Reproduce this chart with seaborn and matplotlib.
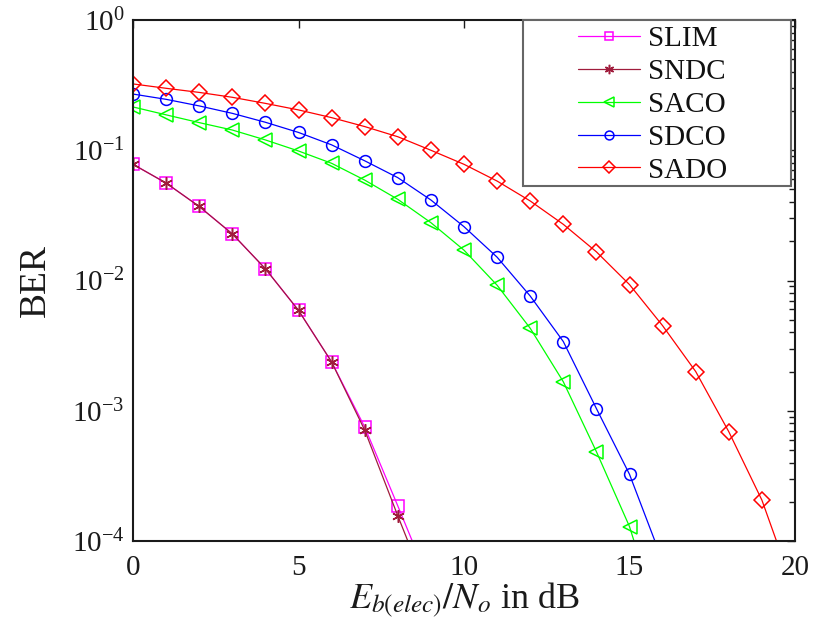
import matplotlib
matplotlib.use("Agg")
import matplotlib.pyplot as plt
from matplotlib.patches import Rectangle
import seaborn as sns
import numpy as np
import pandas as pd

# ---- data ----
x_lim_ndc = [0, 1, 2, 3, 4, 5, 6, 7, 8, 9]
slim = [0.078, 0.056, 0.037, 0.0228, 0.0123, 0.0059, 0.00237, 0.00075, 1.86e-4, 4.5e-5]
sndc = [0.078, 0.056, 0.037, 0.0228, 0.0123, 0.0059, 0.00237, 0.00071, 1.56e-4, 3.6e-5]

x_aco = [0, 1, 2, 3, 4, 5, 6, 7, 8, 9, 10, 11, 12, 13, 14, 15, 16]
saco = [0.215, 0.187, 0.163, 0.143, 0.120, 0.0987, 0.0794, 0.059, 0.042, 0.0278,
        0.0171, 0.0092, 0.0043, 0.00167, 4.85e-4, 1.29e-4, 2.0e-5]

x_dco = [0, 1, 2, 3, 4, 5, 6, 7, 8, 9, 10, 11, 12, 13, 14, 15, 16]
sdco = [0.27, 0.246, 0.219, 0.192, 0.164, 0.137, 0.110, 0.083, 0.0616, 0.0415,
        0.0259, 0.0151, 0.0076, 0.0034, 0.00104, 3.25e-4, 7.0e-5]

x_ado = list(range(0, 21))
sado = [0.323, 0.299, 0.278, 0.255, 0.229, 0.204, 0.178, 0.152, 0.127, 0.100,
        0.078, 0.058, 0.0408, 0.027, 0.0166, 0.0093, 0.0045, 0.0020, 6.9e-4,
        2.06e-4, 4.0e-5]

names = ["SLIM", "SNDC", "SACO", "SDCO", "SADO"]
colors = ["#ff00ff", "#a01c3c", "#00ff00", "#0000ff", "#ff0000"]
x_ticks = [0, 5, 10, 15, 20]

sns.set_theme(style="white")
plt.rcParams["font.family"] = ["Liberation Serif", "DejaVu Serif"]
plt.rcParams["mathtext.fontset"] = "stix"
plt.rcParams["xtick.direction"] = "in"
plt.rcParams["ytick.direction"] = "in"

fig = plt.figure(figsize=(8.14, 6.36), dpi=100)
ax = fig.add_axes([133 / 814, 95 / 636, (795 - 133) / 814, (541 - 20) / 636])

series = [
    (x_lim_ndc, slim, "s", 8),
    (x_lim_ndc, sndc, (6, 2, 0), 9),
    (x_aco, saco, "<", 10),
    (x_dco, sdco, "o", 8.5),
    (x_ado, sado, "D", 8.5),
]
for (xs, ys, mk, ms), name, c in zip(series, names, colors):
    df = pd.DataFrame({"x": xs, "y": ys})
    sns.lineplot(data=df, x="x", y="y", ax=ax, color=c, marker=mk, markersize=ms,
                 markerfacecolor="none", markeredgecolor=c, markeredgewidth=1.1,
                 linewidth=0.9, label=name, legend=False)

ax.set_yscale("log")
ax.set_ylim(1e-4, 1)
ax.set_xlim(0, 20)
ax.set_xticks(x_ticks)
ax.set_xticklabels([str(t) for t in x_ticks])
ax.tick_params(axis="both", which="both", top=True, right=True, labelsize=21,
               colors="#1a1a1a", width=1.0)
ax.tick_params(axis="both", which="major", length=6)
ax.tick_params(axis="y", which="minor", length=4)
ax.tick_params(axis="x", pad=10)
ax.tick_params(axis="y", pad=6)
for sp in ax.spines.values():
    sp.set_linewidth(1.5)
    sp.set_color("#1a1a1a")

ax.set_ylabel("BER", fontsize=27, labelpad=14, color="#1a1a1a")
ax.set_xlabel(r"$E_{b(elec)}/N_o$ in dB", fontsize=26, labelpad=0, color="#1a1a1a")

# legend box (MATLAB-style, wide left margin)
ax.add_patch(Rectangle((0.589, 0.681), 0.405, 0.319, transform=ax.transAxes,
                       facecolor="white", edgecolor="#666666", linewidth=1.5,
                       zorder=4.5, clip_on=False))
leg = ax.legend(loc="upper left", bbox_to_anchor=(0.663, 1.0), borderaxespad=0,
                fontsize=21, frameon=False, handlelength=2.15, labelspacing=0.22,
                borderpad=0.2, markerscale=0.75, handletextpad=0.25)
leg.set_zorder(6)
for t in leg.get_texts():
    t.set_color("#111111")

fig.savefig("out.png", dpi=100)
